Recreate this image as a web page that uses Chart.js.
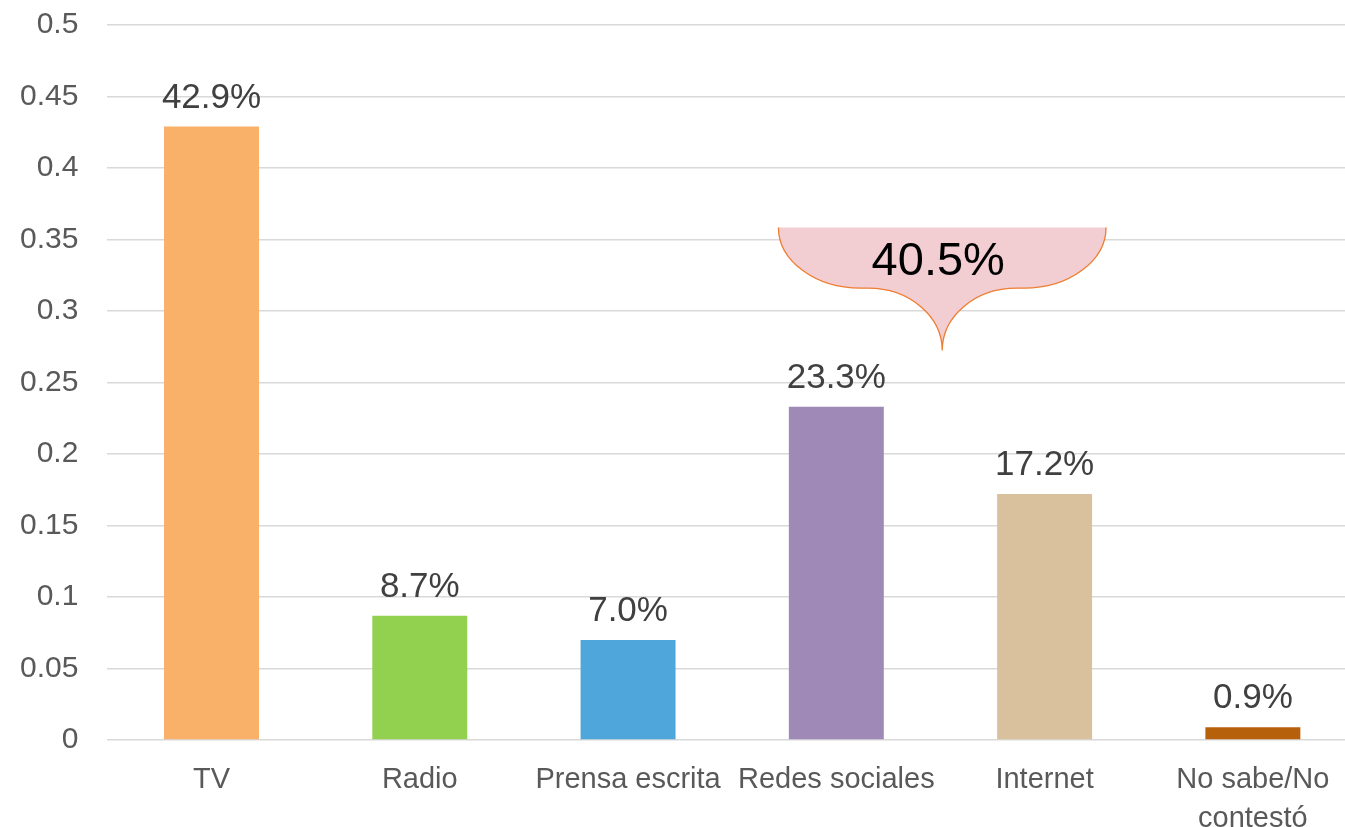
<!DOCTYPE html>
<html>
<head>
<meta charset="utf-8">
<script src="https://cdn.jsdelivr.net/npm/chart.js@4.4.1/dist/chart.umd.min.js"></script>
<style>
  html, body { margin: 0; padding: 0; background: #fff; overflow: hidden; }
  #wrap { width: 1357px; height: 827px; }
</style>
</head>
<body>
<div id="wrap"><canvas id="myChart"></canvas></div>
<script>
const categories = ['TV', 'Radio', 'Prensa escrita', 'Redes sociales', 'Internet', ['No sabe/No', 'contestó']];
const values = [0.429, 0.087, 0.070, 0.233, 0.172, 0.009];
const valueLabels = ['42.9%', '8.7%', '7.0%', '23.3%', '17.2%', '0.9%'];
const barColors = ['#f9b068', '#92d050', '#4ea6da', '#9f8ab7', '#dac19d', '#b7600b'];
const braceLabel = '40.5%';
const braceSpan = [3, 4];

// labels over the bars
const valueLabelPlugin = {
  id: 'valueLabels',
  afterDatasetsDraw(chart) {
    const ctx = chart.ctx;
    const meta = chart.getDatasetMeta(0);
    ctx.save();
    ctx.font = '35px "Liberation Sans", Arial, sans-serif';
    ctx.fillStyle = '#404040';
    ctx.textAlign = 'center';
    ctx.textBaseline = 'bottom';
    meta.data.forEach((bar, i) => {
      ctx.fillText(valueLabels[i], bar.x, bar.y - 11);
    });
    ctx.restore();
  }
};

// curly brace callout over Redes sociales + Internet
function bracePath(ctx, left, right, top, waist, tip) {
  const mid = (left + right) / 2;
  const w1 = (right - left) * 0.25;
  const h1 = waist - top;
  const w2 = mid - (left + w1 + 8);
  const h2 = tip - waist;
  ctx.beginPath();
  ctx.moveTo(left, top);
  ctx.bezierCurveTo(left, top + 0.55 * h1, left + w1 - 0.55 * w1, waist, left + w1, waist);
  ctx.lineTo(left + w1 + 8, waist);
  ctx.bezierCurveTo(left + w1 + 8 + 0.55 * w2, waist, mid, tip - 0.55 * h2, mid, tip);
  ctx.bezierCurveTo(mid, tip - 0.55 * h2, right - w1 - 8 - 0.55 * w2, waist, right - w1 - 8, waist);
  ctx.lineTo(right - w1, waist);
  ctx.bezierCurveTo(right - w1 + 0.55 * w1, waist, right, top + 0.55 * h1, right, top);
}

const bracePlugin = {
  id: 'brace',
  afterDatasetsDraw(chart) {
    const ctx = chart.ctx;
    const x = chart.scales.x, y = chart.scales.y;
    const step = x.getPixelForValue(1) - x.getPixelForValue(0);
    const left = x.getPixelForValue(braceSpan[0]) - step * 0.278;
    const right = x.getPixelForValue(braceSpan[1]) + step * 0.295;
    const mid = (left + right) / 2;
    const top = y.getPixelForValue(0.3585);
    const waist = y.getPixelForValue(0.316);
    const tip = y.getPixelForValue(0.2725);
    ctx.save();
    bracePath(ctx, left, right, top, waist, tip);
    ctx.closePath();
    ctx.fillStyle = '#f2ced3';
    ctx.fill();
    bracePath(ctx, left, right, top, waist, tip);
    ctx.strokeStyle = '#ed7d31';
    ctx.lineWidth = 1.3;
    ctx.stroke();
    ctx.font = '47px "Liberation Sans", Arial, sans-serif';
    ctx.fillStyle = '#000';
    ctx.textAlign = 'center';
    ctx.textBaseline = 'middle';
    ctx.fillText(braceLabel, mid - 4, (top + waist) / 2 + 4);
    ctx.restore();
  }
};

new Chart(document.getElementById('myChart'), {
  type: 'bar',
  data: {
    labels: categories,
    datasets: [{
      data: values,
      backgroundColor: barColors,
      borderWidth: 0,
      categoryPercentage: 1,
      barPercentage: 0.456
    }]
  },
  options: {
    responsive: true,
    maintainAspectRatio: false,
    animation: false,
    layout: { padding: { top: 0, right: 0, bottom: -32, left: -9 } },
    plugins: {
      legend: { display: false },
      tooltip: { enabled: false }
    },
    scales: {
      x: {
        grid: { display: false, drawTicks: false },
        border: { display: false },
        ticks: {
          color: '#595959',
          font: { family: '"Liberation Sans", Arial, sans-serif', size: 29, lineHeight: 1.36 },
          padding: 20,
          maxRotation: 0,
          autoSkip: false
        }
      },
      y: {
        min: 0,
        max: 0.5,
        grid: { color: '#d9d9d9', lineWidth: 1.5, drawTicks: false },
        border: { display: false },
        afterFit(scale) { scale.paddingTop = 25; },
        ticks: {
          stepSize: 0.05,
          color: '#595959',
          font: { family: '"Liberation Sans", Arial, sans-serif', size: 30 },
          padding: 29,
          callback: v => String(Math.round(v * 100) / 100)
        }
      }
    }
  },
  plugins: [valueLabelPlugin, bracePlugin]
});
</script>
</body>
</html>
